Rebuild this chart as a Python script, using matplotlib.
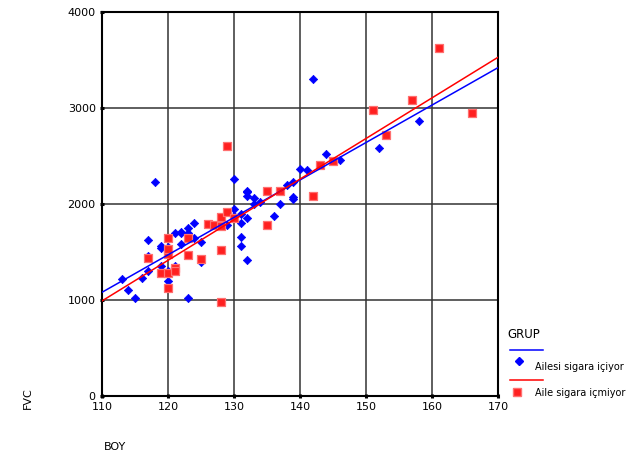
import matplotlib
matplotlib.use('Agg')
import matplotlib.pyplot as plt
import numpy as np
from matplotlib.lines import Line2D

plt.rcParams['font.family'] = ['DejaVu Sans']

# 数据: Ailesi sigara içiyor (mavi)
boy_blue = [113, 114, 115, 116, 117, 117, 117, 118, 119, 119, 119, 120, 120, 120, 120,
            121, 121, 121, 122, 122, 122, 123, 123, 123, 123, 124, 124, 125, 125, 128,
            129, 130, 130, 130, 131, 131, 131, 131, 132, 132, 132, 132, 132, 133, 133,
            134, 136, 137, 138, 139, 139, 139, 140, 141, 142, 144, 145, 146, 152, 158]
fvc_blue = [1220, 1100, 1020, 1230, 1300, 1460, 1620, 2230, 1350, 1540, 1560, 1200, 1300, 1500, 1550,
            1300, 1350, 1700, 1580, 1700, 1710, 1650, 1700, 1750, 1020, 1800, 1650, 1600, 1400, 1780,
            1780, 2260, 1950, 1870, 1800, 1660, 1560, 1900, 2120, 2140, 2080, 1420, 1850, 2000, 2060,
            2020, 1870, 2000, 2200, 2230, 2050, 2070, 2360, 2350, 3300, 2520, 2450, 2460, 2580, 2860]

# 数据: Aile sigara içmiyor (kırmızı)
boy_red = [117, 119, 120, 120, 120, 120, 120, 121, 121, 123, 123, 125, 126, 127, 128,
           128, 128, 128, 129, 129, 130, 135, 135, 137, 142, 143, 145, 151, 153, 157, 161, 166]
fvc_red = [1440, 1280, 1120, 1280, 1480, 1530, 1650, 1330, 1300, 1650, 1470, 1430, 1790, 1780, 1770,
           1860, 1520, 980, 1920, 2600, 1850, 1780, 2140, 2140, 2080, 2410, 2450, 2980, 2720, 3080, 3620, 2950]

# 回归线系数 (截距, 斜率)
fit_blue = (-3210, 39.0)
fit_red = (-3663, 42.3)

group_labels = ['Ailesi sigara içiyor', 'Aile sigara içmiyor']
x_ticks = [110, 120, 130, 140, 150, 160, 170]
y_ticks = [0, 1000, 2000, 3000, 4000]

fig = plt.figure(figsize=(6.35, 4.54), dpi=100)
ax = fig.add_axes([0.1606, 0.1278, 0.6236, 0.8458])

ax.grid(True, color='#333333', linewidth=1.1)
ax.set_axisbelow(True)

ax.scatter(boy_blue, fvc_blue, marker='D', s=18, color='#0000ff', edgecolors='#0000ff', linewidths=0.5, zorder=3)
ax.scatter(boy_red, fvc_red, marker='s', s=30, color='#ff2020', edgecolors='#ff7070', linewidths=0.9, zorder=3)

xx = np.array([110, 170])
ax.plot(xx, fit_blue[0] + fit_blue[1] * xx, color='#0000ff', linewidth=1.1, zorder=4)
ax.plot(xx, fit_red[0] + fit_red[1] * xx, color='#ff0000', linewidth=1.1, zorder=4)

ax.set_xlim(110, 170)
ax.set_ylim(0, 4000)
ax.set_xticks(x_ticks)
ax.set_yticks(y_ticks)
ax.tick_params(direction='inout', length=3, width=2.2, labelsize=8, pad=3)
for sp in ax.spines.values():
    sp.set_linewidth(1.5)
    sp.set_color('black')

# 轴标签
fig.text(28 / 635, 1 - 398 / 454, 'FVC', rotation=90, ha='center', va='center', fontsize=8)
fig.text(115 / 635, 1 - 447 / 454, 'BOY', ha='center', va='center', fontsize=8)

# 图例
fig.text(507 / 635, 1 - 334 / 454, 'GRUP', ha='left', va='center', fontsize=8.5)
fig.lines.append(Line2D([510 / 635, 543 / 635], [1 - 350 / 454, 1 - 350 / 454],
                        transform=fig.transFigure, color='#0000ff', linewidth=1.1))
fig.lines.append(Line2D([519 / 635], [1 - 361 / 454], transform=fig.transFigure,
                        marker='D', markersize=4.5, color='#0000ff', linestyle='none'))
fig.text(535 / 635, 1 - 367 / 454, group_labels[0], ha='left', va='center', fontsize=7)
fig.lines.append(Line2D([510 / 635, 543 / 635], [1 - 380 / 454, 1 - 380 / 454],
                        transform=fig.transFigure, color='#ff0000', linewidth=1.1))
fig.lines.append(Line2D([517 / 635], [1 - 392 / 454], transform=fig.transFigure,
                        marker='s', markersize=5.5, color='#ff2020', markeredgecolor='#ff7070', linestyle='none'))
fig.text(535 / 635, 1 - 393 / 454, group_labels[1], ha='left', va='center', fontsize=7)

fig.savefig('out.png', dpi=100)
